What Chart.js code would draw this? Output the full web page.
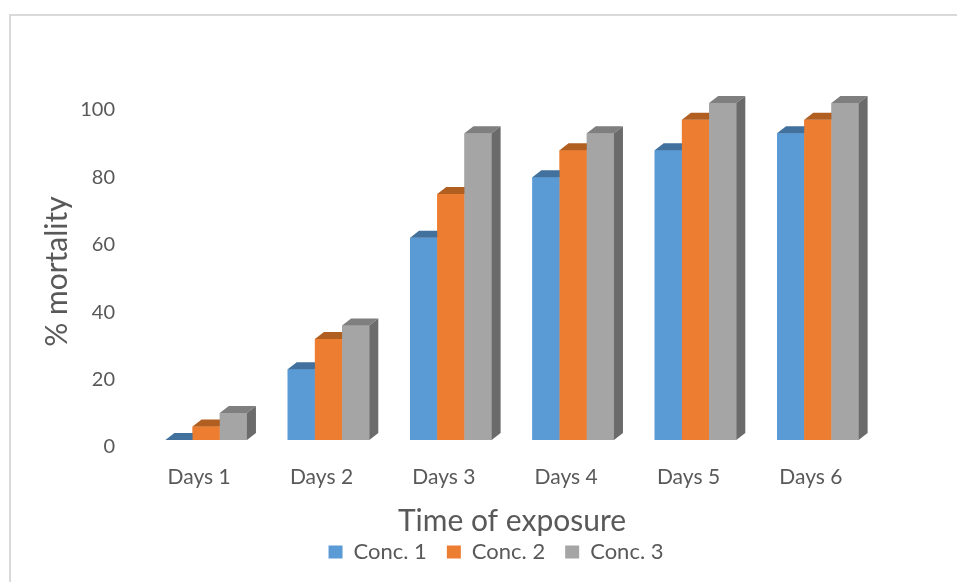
<!DOCTYPE html>
<html>
<head>
<meta charset="utf-8">
<script src="https://cdn.jsdelivr.net/npm/chart.js@4.4.1/dist/chart.umd.min.js"></script>
<style>
  html, body { margin: 0; padding: 0; background: #fff; }
  #wrap { width: 957px; height: 582px; }
</style>
</head>
<body>
<div id="wrap"><canvas id="myChart" width="957" height="582"></canvas></div>
<script>
// data
const days = ['Days 1', 'Days 2', 'Days 3', 'Days 4', 'Days 5', 'Days 6'];
const conc1 = [0, 21, 60, 78, 86, 91];
const conc2 = [4, 30, 73, 86, 95, 95];
const conc3 = [8, 34, 91, 91, 100, 100];
const seriesNames = ['Conc. 1', 'Conc. 2', 'Conc. 3'];
const yTicks = [0, 20, 40, 60, 80, 100];

const frontColors = ['#5b9bd5', '#ed7d31', '#a5a5a5'];
const topColors = ['#41719c', '#b15e21', '#7f7f7f'];
const sideColor = '#6b6b6b';
const textColor = '#595959';
const fontFamily = 'Lato, "Open Sans", sans-serif';

// fake 3d: top faces and the side of the last column
const depth = { dx: 9, dy: 7 };
const bars3d = {
    id: 'bars3d',
    afterDatasetsDraw(chart) {
        const ctx = chart.ctx;
        const metas = chart.data.datasets.map((d, i) => chart.getDatasetMeta(i));
        ctx.save();
        for (let j = 0; j < days.length; j++) {
            metas.forEach((meta, i) => {
                const bar = meta.data[j];
                const l = bar.x - bar.width / 2;
                const r = bar.x + bar.width / 2;
                const t = bar.y;
                const b = bar.base;
                ctx.fillStyle = frontColors[i];
                ctx.fillRect(l, t, r - l, b - t);
                ctx.fillStyle = topColors[i];
                ctx.beginPath();
                ctx.moveTo(l, t);
                ctx.lineTo(r, t);
                ctx.lineTo(r + depth.dx, t - depth.dy);
                ctx.lineTo(l + depth.dx, t - depth.dy);
                ctx.closePath();
                ctx.fill();
                if (i === metas.length - 1) {
                    ctx.fillStyle = sideColor;
                    ctx.beginPath();
                    ctx.moveTo(r, t);
                    ctx.lineTo(r + depth.dx, t - depth.dy);
                    ctx.lineTo(r + depth.dx, b - depth.dy);
                    ctx.lineTo(r, b);
                    ctx.closePath();
                    ctx.fill();
                }
            });
        }
        ctx.restore();
    }
};

// light frame at the top and left like the source image
const frame = {
    id: 'frame',
    beforeDraw(chart) {
        const ctx = chart.ctx;
        ctx.save();
        ctx.strokeStyle = '#d9d9d9';
        ctx.lineWidth = 2;
        ctx.beginPath();
        ctx.moveTo(10, 582);
        ctx.lineTo(10, 15);
        ctx.lineTo(957, 15);
        ctx.stroke();
        ctx.restore();
    }
};

const ctx = document.getElementById('myChart').getContext('2d');
new Chart(ctx, {
    type: 'bar',
    data: {
        labels: days,
        datasets: [conc1, conc2, conc3].map((vals, i) => ({
            label: seriesNames[i],
            data: vals,
            backgroundColor: frontColors[i],
            borderWidth: 0,
            categoryPercentage: 0.667,
            barPercentage: 1
        }))
    },
    options: {
        responsive: false,
        animation: false,
        layout: { padding: { left: 35, right: 0, top: 103, bottom: 9 } },
        plugins: {
            tooltip: { enabled: false },
            legend: {
                position: 'bottom',
                labels: {
                    boxWidth: 14,
                    boxHeight: 13,
                    padding: 20,
                    color: textColor,
                    font: { family: fontFamily, size: 22 }
                }
            }
        },
        scales: {
            x: {
                grid: { display: false, drawTicks: false },
                border: { display: false },
                ticks: {
                    color: textColor,
                    padding: 25,
                    labelOffset: -7,
                    font: { family: fontFamily, size: 21 }
                },
                title: {
                    display: true,
                    text: 'Time of exposure',
                    color: textColor,
                    padding: { top: 0, bottom: -18 },
                    font: { family: fontFamily, size: 30 }
                },
                afterFit(scale) { scale.height = 81; }
            },
            y: {
                min: 0,
                max: 100,
                grid: { display: false, drawTicks: false },
                border: { display: false },
                afterBuildTicks(scale) { scale.ticks = yTicks.map(v => ({ value: v })); },
                ticks: {
                    color: textColor,
                    padding: 30,
                    labelOffset: 7,
                    font: { family: fontFamily, size: 20 }
                },
                title: {
                    display: true,
                    text: '% mortality',
                    color: textColor,
                    font: { family: fontFamily, size: 30 }
                },
                afterFit(scale) { scale.width = 110; }
            },
            // empty right-hand spacer so the legend centres like the original
            y2: {
                position: 'right',
                min: 0,
                max: 100,
                grid: { display: false, drawTicks: false },
                border: { display: false },
                ticks: { display: false },
                afterFit(scale) { scale.width = 78; }
            }
        }
    },
    plugins: [frame, bars3d]
});
</script>
</body>
</html>
